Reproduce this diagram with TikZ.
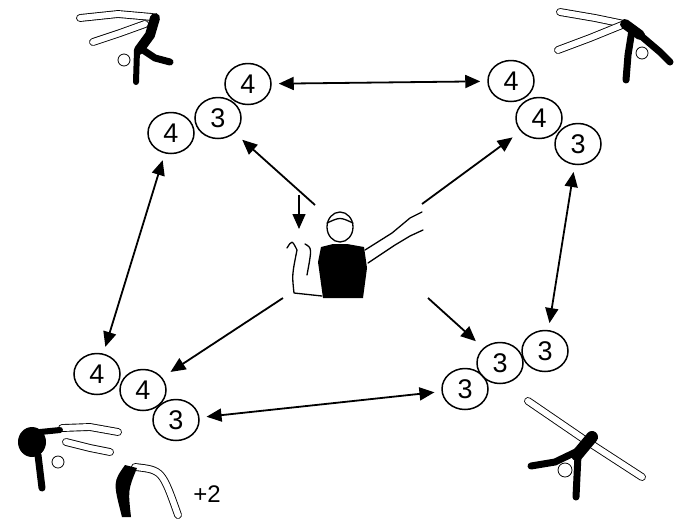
\documentclass[tikz,border=0pt]{standalone}
\usepackage{fontspec}
\setmainfont{Liberation Sans}
\usetikzlibrary{shapes.geometric}
\usetikzlibrary{arrows.meta}
\tikzset{
  score/.style={draw, ellipse, line width=1.5pt, minimum width=46pt, minimum height=41pt,
                inner sep=0pt, font=\fontsize{27}{27}\selectfont},
  pass/.style={line width=1.8pt, -{Triangle[length=15pt,width=13pt]}, shorten >=10pt},
  trade/.style={line width=1.8pt, {Triangle[length=15pt,width=13pt]}-{Triangle[length=15pt,width=13pt]},
                shorten >=7pt, shorten <=7pt},
  leg/.style={double=white, double distance=6pt, line width=0.9pt, line cap=round, line join=round},
  torso/.style={line width=10pt, line cap=round, line join=round},
  sketch/.style={line width=1.3pt, line cap=round, line join=round},
}
\begin{document}
\begin{tikzpicture}[x=1pt, y=-1pt]
            \useasboundingbox (0,0) rectangle (679,523);
            % Score groups
            \node[score] (tlA) at (248, 84) {4};
            \node[score] (tlB) at (218,118) {3};
            \node[score] (tlC) at (171,133) {4};
            \node[score] (trA) at (511, 81) {4};
            \node[score] (trB) at (539,118) {4};
            \node[score] (trC) at (578,144) {3};
            \node[score] (blA) at ( 97,374) {4};
            \node[score] (blB) at (143,390) {4};
            \node[score] (blC) at (176,420) {3};
            \node[score] (brA) at (465,389) {3};
            \node[score] (brB) at (500,363) {3};
            \node[score] (brC) at (545,351) {3};
            \node[font=\fontsize{24}{24}\selectfont] (bonus) at (207,494) {+2};
            % Exchanges between groups
            \draw[trade] (tlA) -- (trA);
            \draw[trade] (tlC) -- (blA);
            \draw[trade] (trC) -- (brC);
            \draw[trade] (blC) -- (brA);
            % Judge in the middle
            \coordinate (cNW) at (315,205);
            \coordinate (cNE) at (422,204);
            \coordinate (cSW) at (283,298);
            \coordinate (cSE) at (428,298);
            \draw[pass] (cNW) -- (tlB);
            \draw[pass] (cNE) -- (trB);
            \draw[pass] (cSW) -- (blB);
            \draw[pass] (cSE) -- (brB);
            \coordinate (dropA) at (299,195);
            \coordinate (dropB) at (299,229);
            \draw[pass, line width=1.4pt, shorten >=0pt] (dropA) -- (dropB);
            \draw[sketch] (340,227) ellipse (13 and 15);
            \draw[sketch] (327,223) .. controls (340,217) .. (353,223);
            \fill (321,247) -- (333,244) -- (347,244) -- (364,247) -- (367,268)
                 -- (363,298) -- (323,298) -- (318,262) -- cycle;
            \draw[sketch] (287,248) .. controls (292,240) .. (297,250) .. controls (292,275) .. (294,293) -- (322,296);
            \draw[sketch] (305,244) .. controls (312,248) .. (307,275);
            \draw[sketch] (365,250) -- (392,233) -- (410,218) -- (422,212);
            \draw[sketch] (368,263) -- (395,245) -- (410,236) -- (423,230);
            % Gymnast top left
            \draw[leg] (80,18) -- (118,14) -- (152,17);
            \draw[leg] (93,42) -- (120,33) -- (145,24);
            \draw[torso] (155,18) -- (150,35) -- (139,50);
            \draw[torso, line width=7pt] (140,48) -- (155,58) -- (170,62);
            \draw[torso, line width=6pt] (137,50) -- (136,82);
            \draw[fill=white, line width=0.8pt] (124,60) circle (6);
            % Gymnast top right
            \draw[leg] (560,12) -- (595,18) -- (624,24);
            \draw[leg] (558,50) -- (590,38) -- (622,25);
            \draw[torso] (625,24) -- (640,35);
            \draw[torso, line width=7pt] (640,35) -- (660,52) -- (670,62);
            \draw[torso, line width=7pt] (632,30) -- (628,55) -- (626,80);
            \draw[fill=white, line width=0.8pt] (642,53) circle (6);
            % Gymnast bottom right
            \draw[leg] (528,401) -- (585,440) -- (642,477);
            \draw[torso, line width=12pt] (592,437) -- (577,455);
            \draw[torso, line width=7pt] (580,450) -- (555,462) -- (531,466);
            \draw[torso, line width=7pt] (578,455) -- (576,497);
            \draw[fill=white, line width=0.8pt] (565,470) circle (7);
            % Gymnast bottom left
            \draw[leg] (62,428) -- (90,427) -- (118,432);
            \draw[leg] (66,442) -- (90,448) -- (110,452);
            \fill (32,442) ellipse (14 and 15);
            \draw[torso, line width=7pt] (38,455) -- (42,488);
            \draw[torso, line width=6pt] (40,432) -- (60,430);
            \draw[fill=white, line width=0.8pt] (58,462) circle (6);
            % Small bent figure
            \draw[leg] (135,467) .. controls (162,470) .. (178,515);
            \fill (125,465) .. controls (113,482) .. (122,517) -- (131,517) .. controls (128,490) .. (137,468) -- cycle;
\end{tikzpicture}
\end{document}
